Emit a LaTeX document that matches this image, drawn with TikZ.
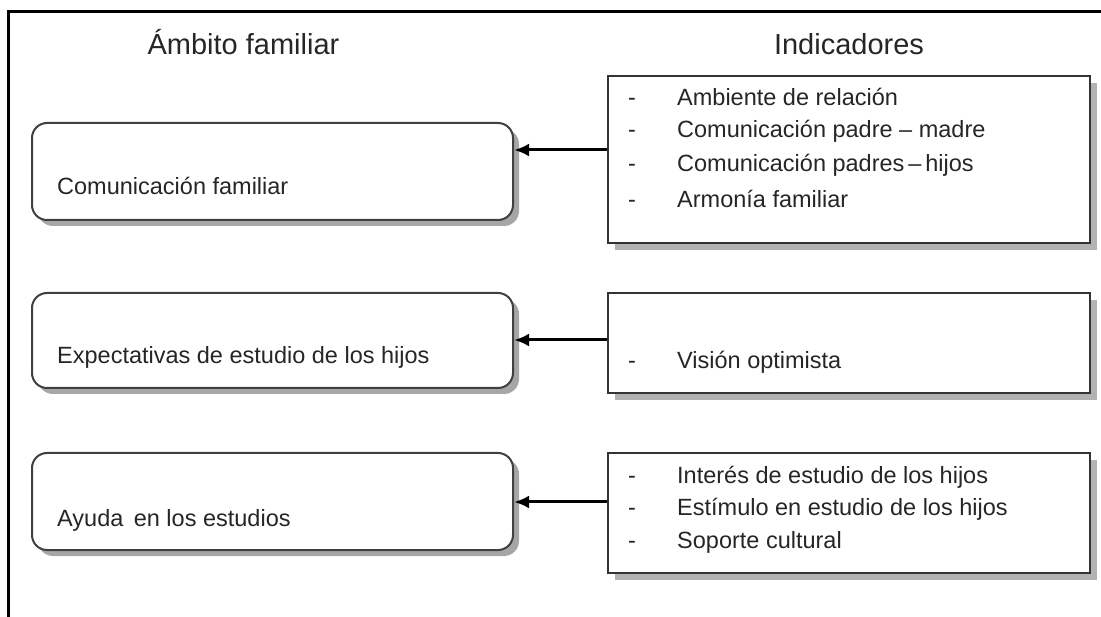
\documentclass[tikz,border=0pt]{standalone}
\usepackage{fontspec}
\setmainfont{Liberation Sans}
\usetikzlibrary{arrows.meta,shadows}

\begin{document}
\begin{tikzpicture}[x=1pt,y=-1pt,
  ambito/.style={draw=black!75,line width=2pt,rounded corners=15pt,fill=white,inner sep=0pt,
    drop shadow={shadow xshift=6pt,shadow yshift=-6pt,fill=black!35,opacity=1}},
  indic/.style={draw=black!80,line width=2pt,fill=white,inner sep=0pt,
    drop shadow={shadow xshift=7pt,shadow yshift=-7pt,fill=black!30,opacity=1}},
  texto/.style={anchor=base west,inner sep=0pt,text=black!85,font=\fontsize{23.5}{28}\selectfont},
  titulo/.style={anchor=base,inner sep=0pt,text=black!85,font=\fontsize{29}{34}\selectfont},
  flecha/.style={line width=3pt,-{Latex[length=15pt,width=13pt]}}]
  \useasboundingbox (0,0) rectangle (1101,617);
  % Marco
  \draw[line width=3pt] (8,617) -- (8,12) -- (1101,12);
  % Titulos
  \node[titulo] (tamb) at (243.5,55) {Ámbito familiar};
  \node[titulo] (tind) at (849,55) {Indicadores};
  % Ambitos
  \node[ambito,minimum width=481,minimum height=97] (amb1) at (272.5,171.5) {};
  \node[ambito,minimum width=481,minimum height=95] (amb2) at (272.5,340.5) {};
  \node[ambito,minimum width=481,minimum height=97] (amb3) at (272.5,501.5) {};
  \node[texto] (lamb1) at (57,195) {Comunicación familiar};
  \node[texto] (lamb2) at (57,364) {Expectativas de estudio de los hijos};
  \node[texto] (lamb3) at (57,526) {Ayuda\, en los estudios};
  % Indicadores
  \node[indic,minimum width=482,minimum height=167] (ind1) at (849,159.5) {};
  \node[indic,minimum width=482,minimum height=100] (ind2) at (849,343) {};
  \node[indic,minimum width=482,minimum height=120] (ind3) at (849,513) {};
  \node[texto] (g11) at (628,106) {-};
  \node[texto] (g12) at (628,138) {-};
  \node[texto] (g13) at (628,172) {-};
  \node[texto] (g14) at (628,208) {-};
  \node[texto] (i11) at (677,106) {Ambiente de relación};
  \node[texto] (i12) at (677,138) {Comunicación padre -- madre};
  \node[texto] (i13) at (677,172) {Comunicación padres\,--\,hijos};
  \node[texto] (i14) at (677,208) {Armonía familiar};
  \node[texto] (g21) at (628,369) {-};
  \node[texto] (i21) at (677,369) {Visión optimista};
  \node[texto] (g31) at (628,483) {-};
  \node[texto] (g32) at (628,515) {-};
  \node[texto] (g33) at (628,548) {-};
  \node[texto] (i31) at (677,483) {Interés de estudio de los hijos};
  \node[texto] (i32) at (677,515) {Estímulo en estudio de los hijos};
  \node[texto] (i33) at (677,548) {Soporte cultural};
  % Flechas
  \draw[flecha] (ind1.west |- 0,150) -- (amb1.east |- 0,150);
  \draw[flecha] (ind2.west |- 0,340) -- (amb2.east |- 0,340);
  \draw[flecha] (ind3.west |- 0,502) -- (amb3.east |- 0,502);
\end{tikzpicture}
\end{document}
